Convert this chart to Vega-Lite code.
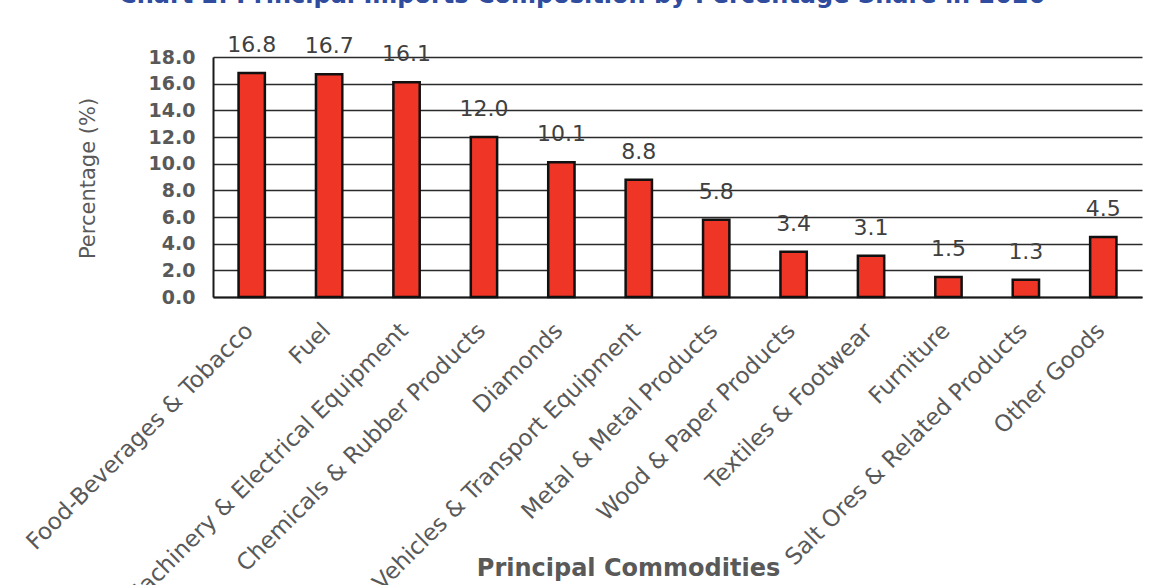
{
  "$schema": "https://vega.github.io/schema/vega-lite/v6.json",
  "width": 929,
  "height": 240,
  "padding": {"left": 22, "top": -16, "right": 10, "bottom": 0},
  "background": "white",
  "title": {
    "text": "Chart 2: Principal Imports Composition by Percentage Share in 2020",
    "frame": "bounds",
    "anchor": "middle",
    "fontSize": 24,
    "fontWeight": "bold",
    "font": "DejaVu Sans",
    "color": "#2F4C9E",
    "offset": 26
  },
  "data": {
    "values": [
      {"commodity": "Food-Beverages & Tobacco", "value": 16.8},
      {"commodity": "Fuel", "value": 16.7},
      {"commodity": "Machinery & Electrical Equipment", "value": 16.1},
      {"commodity": "Chemicals & Rubber Products", "value": 12.0},
      {"commodity": "Diamonds", "value": 10.1},
      {"commodity": "Vehicles & Transport Equipment", "value": 8.8},
      {"commodity": "Metal & Metal Products", "value": 5.8},
      {"commodity": "Wood & Paper Products", "value": 3.4},
      {"commodity": "Textiles & Footwear", "value": 3.1},
      {"commodity": "Furniture", "value": 1.5},
      {"commodity": "Salt Ores & Related Products", "value": 1.3},
      {"commodity": "Other Goods", "value": 4.5}
    ]
  },
  "encoding": {
    "x": {
      "field": "commodity",
      "type": "nominal",
      "sort": null,
      "scale": {"paddingInner": 0.66, "paddingOuter": 0.33},
      "axis": {
        "title": "Principal Commodities",
        "titleFont": "DejaVu Sans",
        "titleFontSize": 24,
        "titleFontWeight": "bold",
        "titleColor": "#595959",
        "titleX": 415,
        "titleY": 271,
        "titleAlign": "center",
        "titleBaseline": "middle",
        "labelAngle": -45,
        "labelFont": "DejaVu Sans",
        "labelFontSize": 23,
        "labelColor": "#595959",
        "labelPadding": 22,
        "labelOffset": -10,
        "labelLimit": 700,
        "labelOverlap": false,
        "ticks": false,
        "domainColor": "#1a1a1a",
        "domainWidth": 2,
        "grid": false
      }
    },
    "y": {
      "field": "value",
      "type": "quantitative",
      "scale": {"domain": [0, 18]},
      "axis": {
        "title": "Percentage (%)",
        "titleFont": "DejaVu Sans",
        "titleFontSize": 21,
        "titleFontWeight": "normal",
        "titleColor": "#595959",
        "titleX": -125,
        "titleY": 121,
        "titleAngle": -90,
        "titleBaseline": "middle",
        "titleAlign": "center",
        "values": [0, 2, 4, 6, 8, 10, 12, 14, 16, 18],
        "format": ".1f",
        "labelFont": "DejaVu Sans",
        "labelFontSize": 19,
        "labelFontWeight": "bold",
        "labelColor": "#595959",
        "labelPadding": 18,
        "ticks": false,
        "domainColor": "#1a1a1a",
        "domainWidth": 2,
        "grid": true,
        "gridColor": "#2a2a2a",
        "gridWidth": 1.5
      }
    }
  },
  "layer": [
    {
      "mark": {"type": "bar", "color": "#EE3526", "stroke": "#111111", "strokeWidth": 2.5}
    },
    {
      "mark": {"type": "text", "baseline": "bottom", "dy": -16, "font": "DejaVu Sans", "fontSize": 22, "color": "#404040"},
      "encoding": {"text": {"field": "value", "type": "quantitative", "format": ".1f"}}
    }
  ],
  "config": {
    "view": {"stroke": null}
  }
}
